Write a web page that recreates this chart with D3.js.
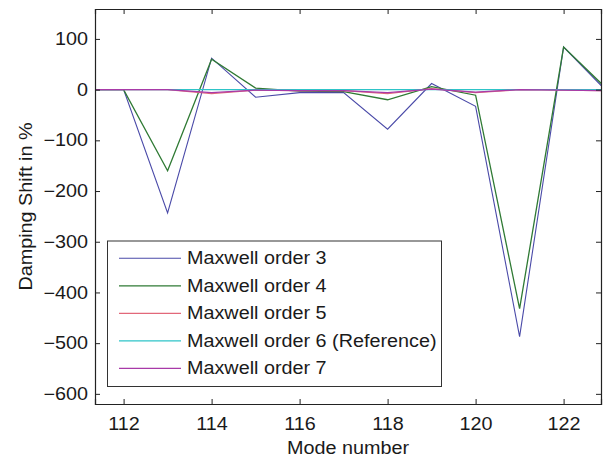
<!DOCTYPE html>
<html>
<head>
<meta charset="utf-8">
<script src="https://cdn.jsdelivr.net/npm/d3@7"></script>
<style>
  html, body { margin: 0; padding: 0; background: #fff; }
  svg { display: block; font-family: "Liberation Sans", Arial, sans-serif; }
</style>
</head>
<body>
<svg id="chart" width="606" height="457"></svg>
<script>
// ---- data ----
const modes = [111, 112, 113, 114, 115, 116, 117, 118, 119, 120, 121, 122, 123];
const order3 = [0, 0, -243, 62, -15, -6, -6, -78, 12, -33, -487, 84, -5];
const order4 = [0, 0, -160, 60, 3, -3, -4, -20, 6, -11, -432, 84, 0];
const order5 = [0, 0, 0, -8, -1, -2, -2, -8, 2, -6, 0, -1, -2];
const order6 = [0, 0, 0, 0, 0, 0, 0, 0, 0, 0, 0, 0, 0];
const order7 = [0, 0, 0, -6, -1, -2, -2, -6, 1, -5, 0, -1, -2];
const seriesNames = ["Maxwell order 3", "Maxwell order 4", "Maxwell order 5", "Maxwell order 6 (Reference)", "Maxwell order 7"];
const xTicks = [112, 114, 116, 118, 120, 122];
const yTicks = [100, 0, -100, -200, -300, -400, -500, -600];

const series = [
  { name: seriesNames[0], values: order3, color: "#4a4aa8", width: 1.1 },
  { name: seriesNames[1], values: order4, color: "#2f7a34", width: 1.3 },
  { name: seriesNames[2], values: order5, color: "#e2687a", width: 1.3 },
  { name: seriesNames[3], values: order6, color: "#2ec4c8", width: 1.3 },
  { name: seriesNames[4], values: order7, color: "#a83aa8", width: 1.3 }
];

const svg = d3.select("#chart");
const L = 95, R = 601, T = 9, B = 404;
const x = d3.scaleLinear().domain([111.35, 122.85]).range([L, R]);
const y = d3.scaleLinear().domain([-620, 159]).range([B, T]);
const txt = "#1a1a1a";
const FS = 17.5, STRETCH = 1.13;

svg.append("defs").append("clipPath").attr("id", "clip")
  .append("rect").attr("x", L).attr("y", T).attr("width", R - L).attr("height", B - T);

// lines
const line = d3.line().x((d, i) => x(modes[i])).y(d => y(d));
const g = svg.append("g").attr("clip-path", "url(#clip)");
series.forEach(s => {
  g.append("path").datum(s.values)
    .attr("d", line)
    .attr("fill", "none")
    .attr("stroke", s.color)
    .attr("stroke-width", s.width)
    .attr("stroke-linejoin", "miter");
});

// axes (ticks inward)
const tl = 5;
const xAxisB = d3.axisBottom(x).tickValues(xTicks).tickSize(-tl).tickPadding(14).tickFormat(d3.format("d"));
const xAxisT = d3.axisTop(x).tickValues(xTicks).tickSize(-tl).tickFormat("");
const yAxisL = d3.axisLeft(y).tickValues(yTicks).tickSize(-tl).tickPadding(7).tickFormat(d3.format("d"));
const yAxisR = d3.axisRight(y).tickValues(yTicks).tickSize(-tl).tickFormat("");

function style(gg) {
  gg.selectAll("path.domain").attr("stroke", "#222").attr("stroke-width", 1.2);
  gg.selectAll(".tick line").attr("stroke", "#222").attr("stroke-width", 1);
  gg.selectAll(".tick text").attr("fill", txt).attr("font-size", FS)
    .attr("font-family", "'Liberation Sans', Arial, sans-serif");
}
svg.append("g").attr("transform", `translate(0,${B})`).call(xAxisB).call(style);
svg.append("g").attr("transform", `translate(0,${T})`).call(xAxisT).call(style);
svg.append("g").attr("transform", `translate(${L},0)`).call(yAxisL).call(style);
svg.append("g").attr("transform", `translate(${R},0)`).call(yAxisR).call(style);

// axis labels
svg.append("text").attr("x", (L + R) / 2).attr("y", 454)
  .attr("text-anchor", "middle").attr("font-size", FS).attr("fill", txt)
  .text("Mode number");
svg.append("text").attr("transform", `translate(32,${(T + B) / 2}) rotate(-90)`)
  .attr("text-anchor", "middle").attr("font-size", FS).attr("fill", txt)
  .text("Damping Shift in %");

// legend
const lg = svg.append("g");
lg.append("rect").attr("x", 107.5).attr("y", 241).attr("width", 334).attr("height", 145.5)
  .attr("fill", "#fff").attr("stroke", "#333").attr("stroke-width", 1);
series.forEach((s, i) => {
  const cy = 258.3 + i * 27.5;
  lg.append("line").attr("x1", 119).attr("x2", 181).attr("y1", cy).attr("y2", cy)
    .attr("stroke", s.color).attr("stroke-width", s.width);
  lg.append("text").attr("x", 187).attr("y", cy).attr("dy", "0.35em")
    .attr("font-size", FS).attr("fill", txt).text(s.name);
});

// widen glyphs slightly to match the reference's wider lettering
svg.selectAll("text").each(function() {
  const len = this.getComputedTextLength();
  if (len > 0) d3.select(this).attr("textLength", len * STRETCH).attr("lengthAdjust", "spacingAndGlyphs");
});
</script>
</body>
</html>
